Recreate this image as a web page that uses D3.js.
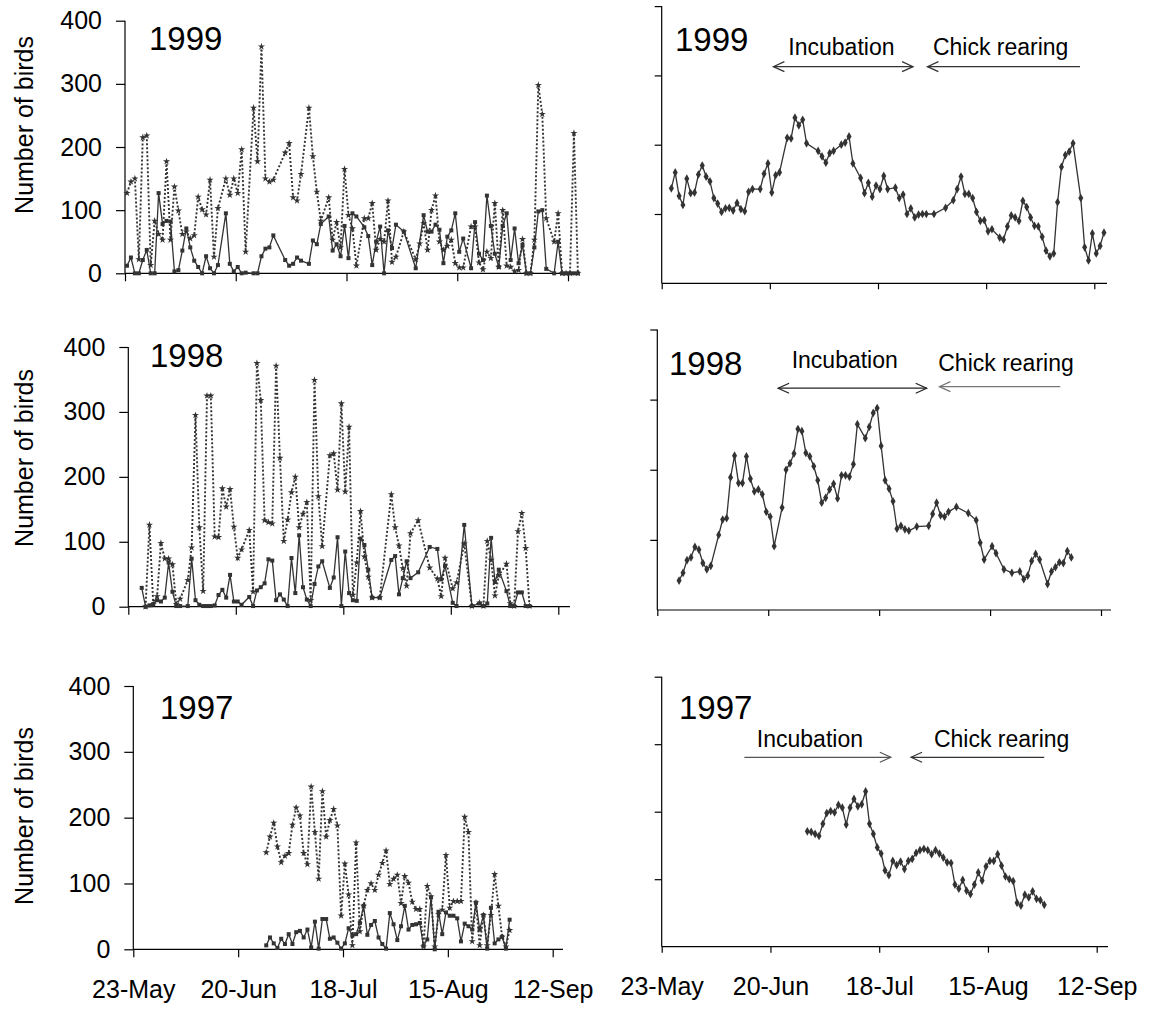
<!DOCTYPE html>
<html>
<head>
<meta charset="utf-8">
<script src="https://cdn.jsdelivr.net/npm/d3@7"></script>
<style>
  html, body { margin: 0; padding: 0; background: #fff; }
  svg { display: block; font-family: "Liberation Sans", Arial, sans-serif; }
</style>
</head>
<body>
<svg id="chart" width="1153" height="1012"></svg>
<script>
// ---- Daily counts (day offsets from 23 May of each season) ----
const days1999 = [0,1,2,3,4,5,6,7,8,9,10,11,12,13,14,15,16,17,18,19,20,21,22,23,25,26,27,28,29,30,32,33,34,35,36,37,40,41,42,43,44,46,47,48,49,51,52,53,54,55,56,57,58,60,61,62,63,64,65,66,67,68,70,73,74,75,76,77,78,79,80,81,82,83,84,85,87,88,89,90,91,92,93,94,95,96,97,98,99,100,101,102,103,104,105,106,108,109,110,111,112,113,114];
const countA1999 = [12,25,0,0,21,37,0,0,127,78,83,82,3,5,36,71,41,20,10,0,27,8,0,13, 95,15,3,10,0,1, 0,0,27,39,41,60, 21,12,15,25,20, 15,52,46,78, 90,36,46,27,75,24,95,90, 73,59,13,50,74,0,68,40,77, 66, 8,null,92,66,66,77,69,16,58,68,95,34,55, 8,81,31,21,123,75,31,10,75,95,21,71,16,45,0,0,41,98,100,7, 0,50,0,0,0,0,0];
const countB1999 = [127,145,150,22,215,218,13,83,62,53,177,53,137,99,62,66,55,60,121,101,93,148,26,103, 150,124,150,127,196,34, 262,177,359,150,145,148, 191,206,120,115,157, 262,185,129,83, 120,53,81,41,165,92,71,12, 87,87,111,37,54,50,115,18,26, 66, 22,47,79,37,100,123,50,37,43,53,16,9,9, 74,74,17,6,34,24,111,10,100,12,10,3,5,54,0,0,53,298,252,87, 50,95,0,0,0,222,0];

const days1998 = [3,4,5,6,7,8,9,10,11,12,13,15,16,17,18,19,20,21,22,23,24,25,26,27,28,29,31,32,33,34,35,36,37,38,39,40,41,42,43,44,45,46,47,48,49,50,52,53,54,55,56,57,58,59,60,61,62,63,65,68,69,70,71,72,73,75,78,80,81,82,84,85,87,89,91,92,93,94,95,96,98,99,100,101,102,103,104];
const countA1998 = [29,0,2,4,10,8,14,68,23,1,1, 1,74,10,3,1,1,1,2,18,26,14,49,8,8,3, 15,1,25,30,36,73,71,10,19,11,1,75,21,110,30,11,1,35,62,70, 29,45,107,1,85,21,10,9,105,95,57,14, 14, 72,78,19,44,70,44, 53, 92, 89,42,63, 6,1, 126, 1, 5,1,5,106,38,57, 24,1,1,22,22,1,1];
const countB1998 = [null,0,126,4,16,98,74,74,65,4,12, 41,91,295,122,24,325,325,108,107,182,154,181,123,75,88, 118,23,375,318,133,130,128,371,229,101,134,176,200,122,143,161,10,349,170,93, 233,236,180,313,177,277,18,68,147,77,46,14, 14, 173,122,94,59,32,113, 133, 60, 43,16,75, 28,37, 97, 1, 6,1,101,72,17,48, 66,5,1,116,144,90,1];

const days1997 = d3.range(35, 101);
const countA1997 = [6,18,9,2,16,8,23,8,26,28,18,30,3,42,1,46,46,16,18,10,1,9,32,21,23,40,66,22,37,43,18,8,1,55,38,14,35,66,30,37,38,40,5,15,79,0,57,23,56,51,51,47,12,39,35,30,71,30,52,1,63,9,15,19,1,45];
const countB1997 = [147,171,192,156,132,142,146,189,215,203,146,129,247,178,107,240,171,196,213,188,51,130,83,6,162,27,66,90,100,90,113,131,150,99,107,113,70,111,101,72,61,61,4,96,80,4,53,60,143,63,73,73,73,201,178,12,71,6,52,6,52,114,66,19,4,29];

// ---- Smoothed counts ----
const meanDays1999 = [2,3,4,5,6,7,8,9,10,11,12,13,14,15,16,17,18,19,20,21,22,23,25,26,27,28,29,30,32,33,34,35,36,37,40,41,42,43,44,46,47,48,49,51,52,53,54,55,56,57,58,60,61,62,63,64,65,66,67,68,70,73,75,76,77,78,79,80,81,82,83,84,85,87,88,89,90,91,92,93,94,95,96,97,98,99,100,101,102,103,104,105,106,108,109,110,111,112,113,114];
const mean1999 = [137,160,126,113,151,130,131,157,170,154,147,123,115,103,108,109,105,116,107,104,132,136, 136,158,173,131,156,160, 210,209,239,228,236,202, 191,183,174,188,191, 200,203,212,173, 152,130,145,125,141,136,155,136, 138,123,128,100,108,95,99,100,100, 100, 109, 120,136,154,129,129,123,103,90,91,75,78, 66,63,82,98,95,90,119,110,95,83,82,67,47,39,43,117,168,185,190,202, 123,52,33,72,43,54,73];

const meanDays1998 = [5,6,7,8,9,10,11,12,13,15,16,17,18,19,20,21,22,23,24,25,26,27,28,29,31,32,33,34,35,36,37,38,39,40,41,42,43,44,45,46,47,48,49,50,52,53,54,55,56,57,58,59,60,61,62,63,65,68,69,70,71,72,73,75,78,80,81,82,84,85,87,89,91,92,93,94,95,96,98,99,100,101,102,103,104];
const mean1998 = [42,53,71,75,90,86,67,58,63, 107,129,131,189,220,181,181,219,187,169,172,165,140,133,91, 146,200,209,223,258,255,224,219,205,185,153,160,172,180,159,192,192,190,208,265, 245,261,281,288,234,185,173,155,116,120,115,113, 119, 120,137,153,135,133,140, 147, 138, 128,96,72, 91,81, 58, 53, 55,44,49,70,80,72, 37,55,61,68,67,84,75];

const meanDays1997 = d3.range(37, 99);
const mean1997 = [171,170,167,164,182,198,201,199,210,206,181,206,219,208,211,230,182,167,147,138,113,106,127,121,126,115,127,130,139,143,145,143,137,143,138,132,125,124,92,86,99,83,78,92,110,98,119,127,127,137,120,104,100,97,65,61,77,73,82,71,69,62];

// ---- Axis labels ----
const tickLabels = ["23-May", "20-Jun", "18-Jul", "15-Aug", "12-Sep"];
const yTicks = [0, 100, 200, 300, 400];

// ---- Breeding phase notes (day offsets, value units) ----
const phases1999 = [
  { text: "Incubation", day: 32.8, value: 329, from: 28.9, to: 65.1, at: 312.6, heads: "both", color: "#333" },
  { text: "Chick rearing", day: 70.2, value: 329, from: 68.8, to: 108.3, at: 312.6, heads: "start", color: "#333" }
];
const phases1998 = [
  { text: "Incubation", day: 33.9, value: 344.8, from: 30.5, to: 68.0, at: 316.3, heads: "both", color: "#222" },
  { text: "Chick rearing", day: 70.9, value: 341.4, from: 71.2, to: 101.7, at: 318.5, heads: "start", color: "#777" }
];
const phases1997 = [
  { text: "Incubation", day: 24.5, value: 295.4, from: 21.3, to: 59.0, at: 280.6, heads: "end", color: "#555" },
  { text: "Chick rearing", day: 70.1, value: 295.4, from: 64.2, to: 98.5, at: 280.6, heads: "start", color: "#333" }
];

// ---- Panel layout ----
const panels = [
  { year: 1999, kind: "daily", x0: 125,   x1: 568,    xEnd: 578,  yTop: 20.7,  yBot: 273.3, yearDx: 24,   yearY: 50,    yLabelY: 125, labels: false },
  { year: 1998, kind: "daily", x0: 128.3, x1: 558.3,  xEnd: 570,  yTop: 347,   yBot: 606.7, yearDx: 21.7, yearY: 366.7, yLabelY: 458, labels: false },
  { year: 1997, kind: "daily", x0: 133.3, x1: 552.7,  xEnd: 563,  yTop: 686,   yBot: 949.3, yearDx: 26.7, yearY: 719.3, yLabelY: 816, labels: true },
  { year: 1999, kind: "mean",  x0: 661.7, x1: 1094.3, xEnd: 1107, yTop: 6.1,   yBot: 283.3, yearDx: 13.3, yearY: 50.7,  labels: false },
  { year: 1998, kind: "mean",  x0: 657.3, x1: 1101,   xEnd: 1111, yTop: 329.5, yBot: 610,   yearDx: 11.7, yearY: 375,   labels: false },
  { year: 1997, kind: "mean",  x0: 661.7, x1: 1096.7, xEnd: 1108, yTop: 676.7, yBot: 946.7, yearDx: 17.3, yearY: 719.3, labels: true }
];

const daily = {
  1999: { days: days1999, a: countA1999, b: countB1999 },
  1998: { days: days1998, a: countA1998, b: countB1998 },
  1997: { days: days1997, a: countA1997, b: countB1997 }
};
const smoothed = {
  1999: { days: meanDays1999, v: mean1999, notes: phases1999 },
  1998: { days: meanDays1998, v: mean1998, notes: phases1998 },
  1997: { days: meanDays1997, v: mean1997, notes: phases1997 }
};

const svg = d3.select("#chart");
const ink = "#333";
const parse = d3.utcParse("%d-%b-%Y");

function pairs(days, vals) {
  return days.map((d, i) => ({ d, v: vals[i] })).filter(p => p.v !== null && p.v !== undefined);
}

panels.forEach(p => {
  const start = parse(`23-May-${p.year}`);
  const end = parse(`12-Sep-${p.year}`);
  const tickDates = tickLabels.map(t => parse(`${t}-${p.year}`));
  const x = d3.scaleUtc().domain([start, end]).range([p.x0, p.x1]);
  const y = d3.scaleLinear().domain([0, 400]).range([p.yBot, p.yTop]);
  // each day's point sits in the middle of its date slot
  const px = d => x(d3.utcHour.offset(d3.utcDay.offset(start, d), 12));
  const dx = d => x(d3.utcHour.offset(start, Math.round(d * 24)));

  const g = svg.append("g");
  const isDaily = p.kind === "daily";

  // y axis
  const yAxis = d3.axisLeft(y)
    .tickValues(isDaily ? yTicks : yTicks.slice(1))
    .tickSize(isDaily ? 9 : 7)
    .tickSizeOuter(0)
    .tickPadding(isDaily ? 14 : 3)
    .tickFormat(isDaily ? d3.format("d") : () => "");
  const ya = g.append("g").attr("transform", `translate(${p.x0},0)`).call(yAxis);
  ya.select(".domain").remove();
  ya.selectAll("line").attr("stroke", "#000").attr("stroke-width", 1.2);
  ya.selectAll("text").attr("font-size", 25).attr("fill", "#000")
    .attr("font-family", "Liberation Sans, Arial, sans-serif");
  g.append("line").attr("x1", p.x0).attr("x2", p.x0)
    .attr("y1", y(400)).attr("y2", y(0)).attr("stroke", "#000").attr("stroke-width", 1.2);

  // x axis
  const xAxis = d3.axisBottom(x)
    .tickValues(tickDates)
    .tickSize(isDaily ? 8 : 6)
    .tickSizeOuter(0)
    .tickPadding(isDaily ? 23 : 25)
    .tickFormat(p.labels ? d3.utcFormat("%d-%b") : () => "");
  const xa = g.append("g").attr("transform", `translate(0,${p.yBot})`).call(xAxis);
  xa.select(".domain").remove();
  xa.selectAll("line").attr("stroke", "#000").attr("stroke-width", 1.2);
  xa.selectAll("text").attr("font-size", 25).attr("fill", "#000")
    .attr("font-family", "Liberation Sans, Arial, sans-serif");
  g.append("line").attr("x1", p.x0).attr("x2", p.xEnd)
    .attr("y1", p.yBot).attr("y2", p.yBot).attr("stroke", "#000").attr("stroke-width", 1.2);

  // year label
  g.append("text").attr("x", p.x0 + p.yearDx).attr("y", p.yearY)
    .attr("font-size", 33).attr("fill", "#000").text(p.year);

  if (isDaily) {
    g.append("text")
      .attr("transform", `translate(33,${p.yLabelY}) rotate(-90)`)
      .attr("text-anchor", "middle").attr("font-size", 25).attr("fill", "#000")
      .text("Number of birds");

    const data = daily[p.year];
    const a = pairs(data.days, data.a);
    const b = pairs(data.days, data.b);
    const line = d3.line().x(q => px(q.d)).y(q => y(q.v));

    // dotted series
    g.append("path").datum(b).attr("d", line).attr("fill", "none")
      .attr("stroke", ink).attr("stroke-width", 1.9).attr("stroke-dasharray", "2,2");
    g.selectAll(".mb").data(b).join("path").attr("class", "mb")
      .attr("transform", q => `translate(${px(q.d)},${y(q.v)})`)
      .attr("d", d3.symbol(d3.symbolStar, 16)()).attr("fill", ink);

    // solid series
    g.append("path").datum(a).attr("d", line).attr("fill", "none")
      .attr("stroke", ink).attr("stroke-width", 1.3);
    g.selectAll(".ma").data(a).join("rect").attr("class", "ma")
      .attr("x", q => px(q.d) - 2).attr("y", q => y(q.v) - 2)
      .attr("width", 4).attr("height", 4).attr("fill", ink);
  } else {
    const data = smoothed[p.year];
    const m = pairs(data.days, data.v);
    const line = d3.line().x(q => px(q.d)).y(q => y(q.v));
    g.append("path").datum(m).attr("d", line).attr("fill", "none")
      .attr("stroke", ink).attr("stroke-width", 1.3);
    g.selectAll(".mm").data(m).join("path").attr("class", "mm")
      .attr("transform", q => `translate(${px(q.d)},${y(q.v)})`)
      .attr("d", d3.symbol(d3.symbolDiamond, 22)()).attr("fill", ink);

    // breeding phase notes with arrows
    data.notes.forEach(n => {
      g.append("text").attr("x", dx(n.day)).attr("y", y(n.value))
        .attr("font-size", 23).attr("fill", "#000").text(n.text);
      const xa1 = dx(n.from), xa2 = dx(n.to), ya1 = y(n.at);
      g.append("line").attr("x1", xa1).attr("x2", xa2).attr("y1", ya1).attr("y2", ya1)
        .attr("stroke", n.color).attr("stroke-width", 1.2);
      const head = (tx, dir) => g.append("path")
        .attr("d", `M${tx - dir * 11},${ya1 - 5}L${tx},${ya1}L${tx - dir * 11},${ya1 + 5}`)
        .attr("fill", "none").attr("stroke", n.color).attr("stroke-width", 1.2);
      if (n.heads === "both" || n.heads === "start") head(xa1, -1);
      if (n.heads === "both" || n.heads === "end") head(xa2, 1);
    });
  }
});
</script>
</body>
</html>
